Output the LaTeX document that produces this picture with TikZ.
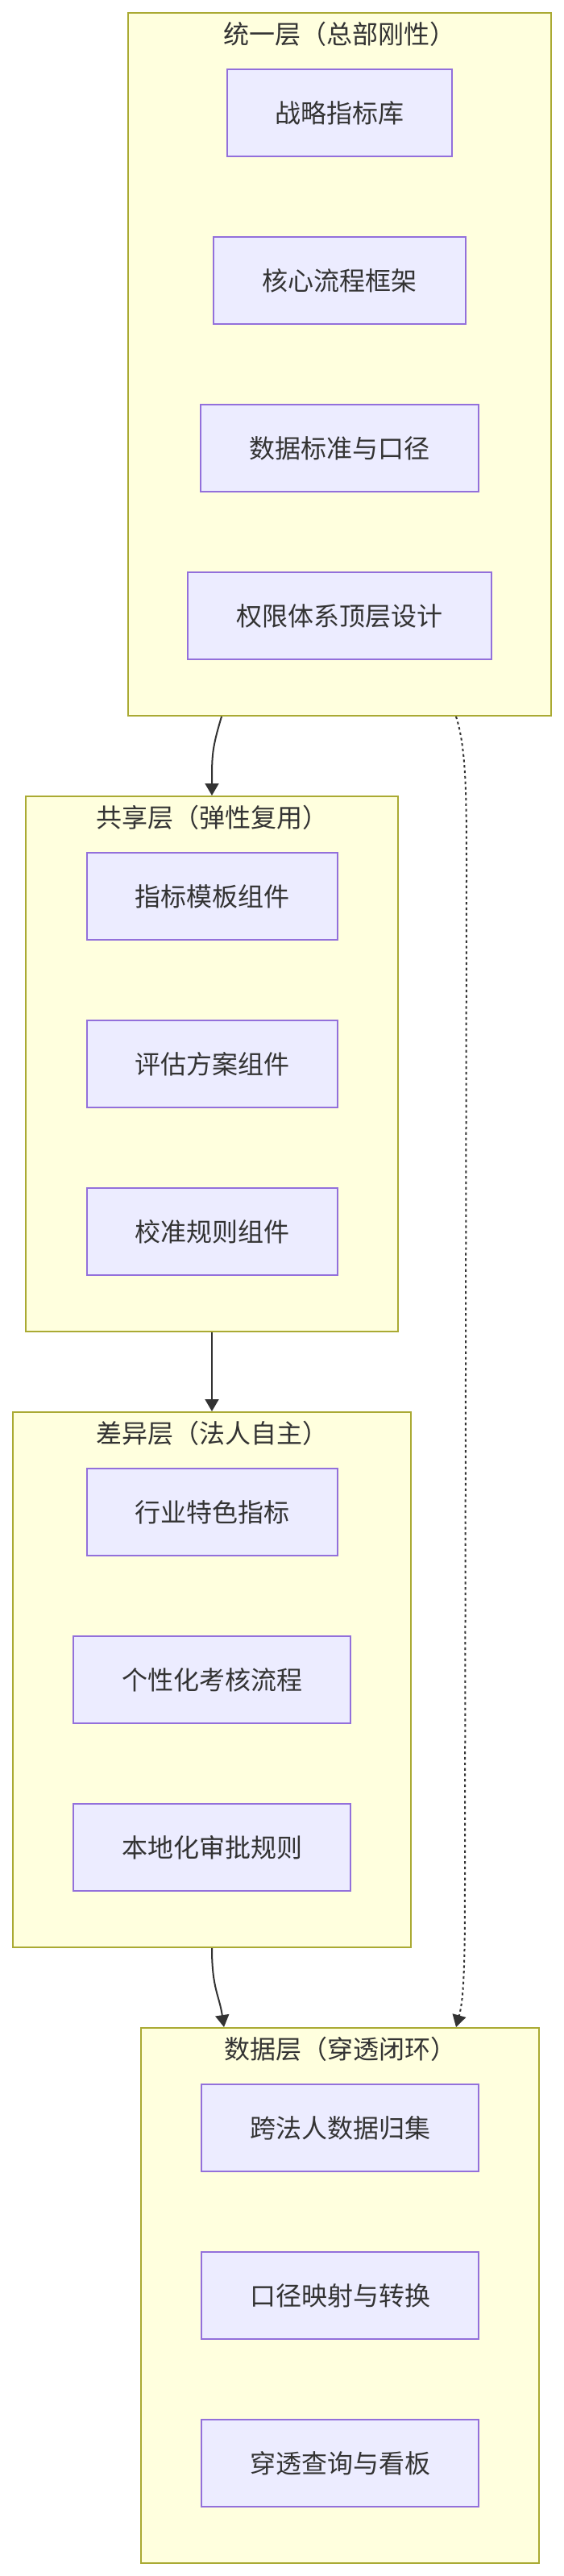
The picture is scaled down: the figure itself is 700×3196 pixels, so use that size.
\documentclass[tikz,border=0pt]{standalone}
\usepackage{fontspec}
\setmainfont{Noto Sans CJK SC}
\usetikzlibrary{arrows.meta,calc}
\definecolor{clfill}{HTML}{FFFFDE}
\definecolor{cldraw}{HTML}{AAAA33}
\definecolor{ndfill}{HTML}{ECECFF}
\definecolor{nddraw}{HTML}{9370DB}
\definecolor{txt}{HTML}{333333}
\tikzset{
  cluster/.style={draw=cldraw, fill=clfill, line width=1pt, rectangle, inner sep=0pt},
  cltitle/.style={text=txt, font=\fontsize{16pt}{20pt}\selectfont, inner sep=0pt},
  box/.style={draw=nddraw, fill=ndfill, line width=1pt, rectangle, minimum height=54pt, text=txt, font=\fontsize{16pt}{20pt}\selectfont, inner sep=0pt},
  link/.style={draw=txt, line width=1pt, -{Triangle[length=7.5pt,width=8.5pt]}},
  dlink/.style={draw=txt, line width=1pt, dash pattern=on 1.6pt off 1.8pt, -{Triangle[length=7.5pt,width=8.5pt]}}
}
\begin{document}
\begin{tikzpicture}[x=0.5pt,y=-0.5pt]
\useasboundingbox (0,0) rectangle (700,3196);
% clusters
\node[cluster, minimum width=262.5pt, minimum height=436pt] (c1) at (421.5,452) {};
\node[cluster, minimum width=231pt, minimum height=332pt] (c2) at (263,1320) {};
\node[cluster, minimum width=247pt, minimum height=332pt] (c3) at (263,2084) {};
\node[cluster, minimum width=247pt, minimum height=332pt] (c4) at (422,2848) {};
% titles
\node[cltitle] (t1) at (421.5,42) {统一层（总部刚性）};
\node[cltitle] (t2) at (263,1014) {共享层（弹性复用）};
\node[cltitle] (t3) at (263,1778) {差异层（法人自主）};
\node[cltitle] (t4) at (422,2542) {数据层（穿透闭环）};
% nodes cluster 1
\node[box, minimum width=139.5pt] (a1) at (421.5,140) {战略指标库};
\node[box, minimum width=156.5pt] (a2) at (421.5,348) {核心流程框架};
\node[box, minimum width=172.5pt] (a3) at (421.5,556) {数据标准与口径};
\node[box, minimum width=188.5pt] (a4) at (421.5,764) {权限体系顶层设计};
% cluster 2
\node[box, minimum width=155.5pt] (b1) at (263,1112) {指标模板组件};
\node[box, minimum width=155.5pt] (b2) at (263,1320) {评估方案组件};
\node[box, minimum width=155.5pt] (b3) at (263,1528) {校准规则组件};
% cluster 3
\node[box, minimum width=155.5pt] (d1) at (263,1876) {行业特色指标};
\node[box, minimum width=172pt] (d2) at (263,2084) {个性化考核流程};
\node[box, minimum width=172pt] (d3) at (263,2292) {本地化审批规则};
% cluster 4
\node[box, minimum width=172pt] (e1) at (422,2640) {跨法人数据归集};
\node[box, minimum width=172pt] (e2) at (422,2848) {口径映射与转换};
\node[box, minimum width=172pt] (e3) at (422,3056) {穿透查询与看板};
% connection points
\coordinate (s12) at ($(c1.south west)+(117,0)$);
\coordinate (s34) at ($(c4.north west)+(104,0)$);
\coordinate (sd1) at ($(c1.south west)+(408,0)$);
\coordinate (sd4) at ($(c4.north west)+(392,0)$);
% edges
\draw[link] (s12) .. controls ($(s12)+(-12,40)$) and ($(c2.north)+(0,-50)$) .. (c2.north);
\draw[link] (c2.south) -- (c3.north);
\draw[link] (c3.south) .. controls ($(c3.south)+(0,50)$) and ($(s34)+(-6,-40)$) .. (s34);
\draw[dlink] (sd1) .. controls ($(sd1)+(13,40)$) and ($(sd1)+(13,100)$) .. ($(sd1)+(13,200)$) -- ($(sd4)+(11,-200)$) .. controls ($(sd4)+(11,-100)$) and ($(sd4)+(11,-40)$) .. (sd4);
\end{tikzpicture}
\end{document}
